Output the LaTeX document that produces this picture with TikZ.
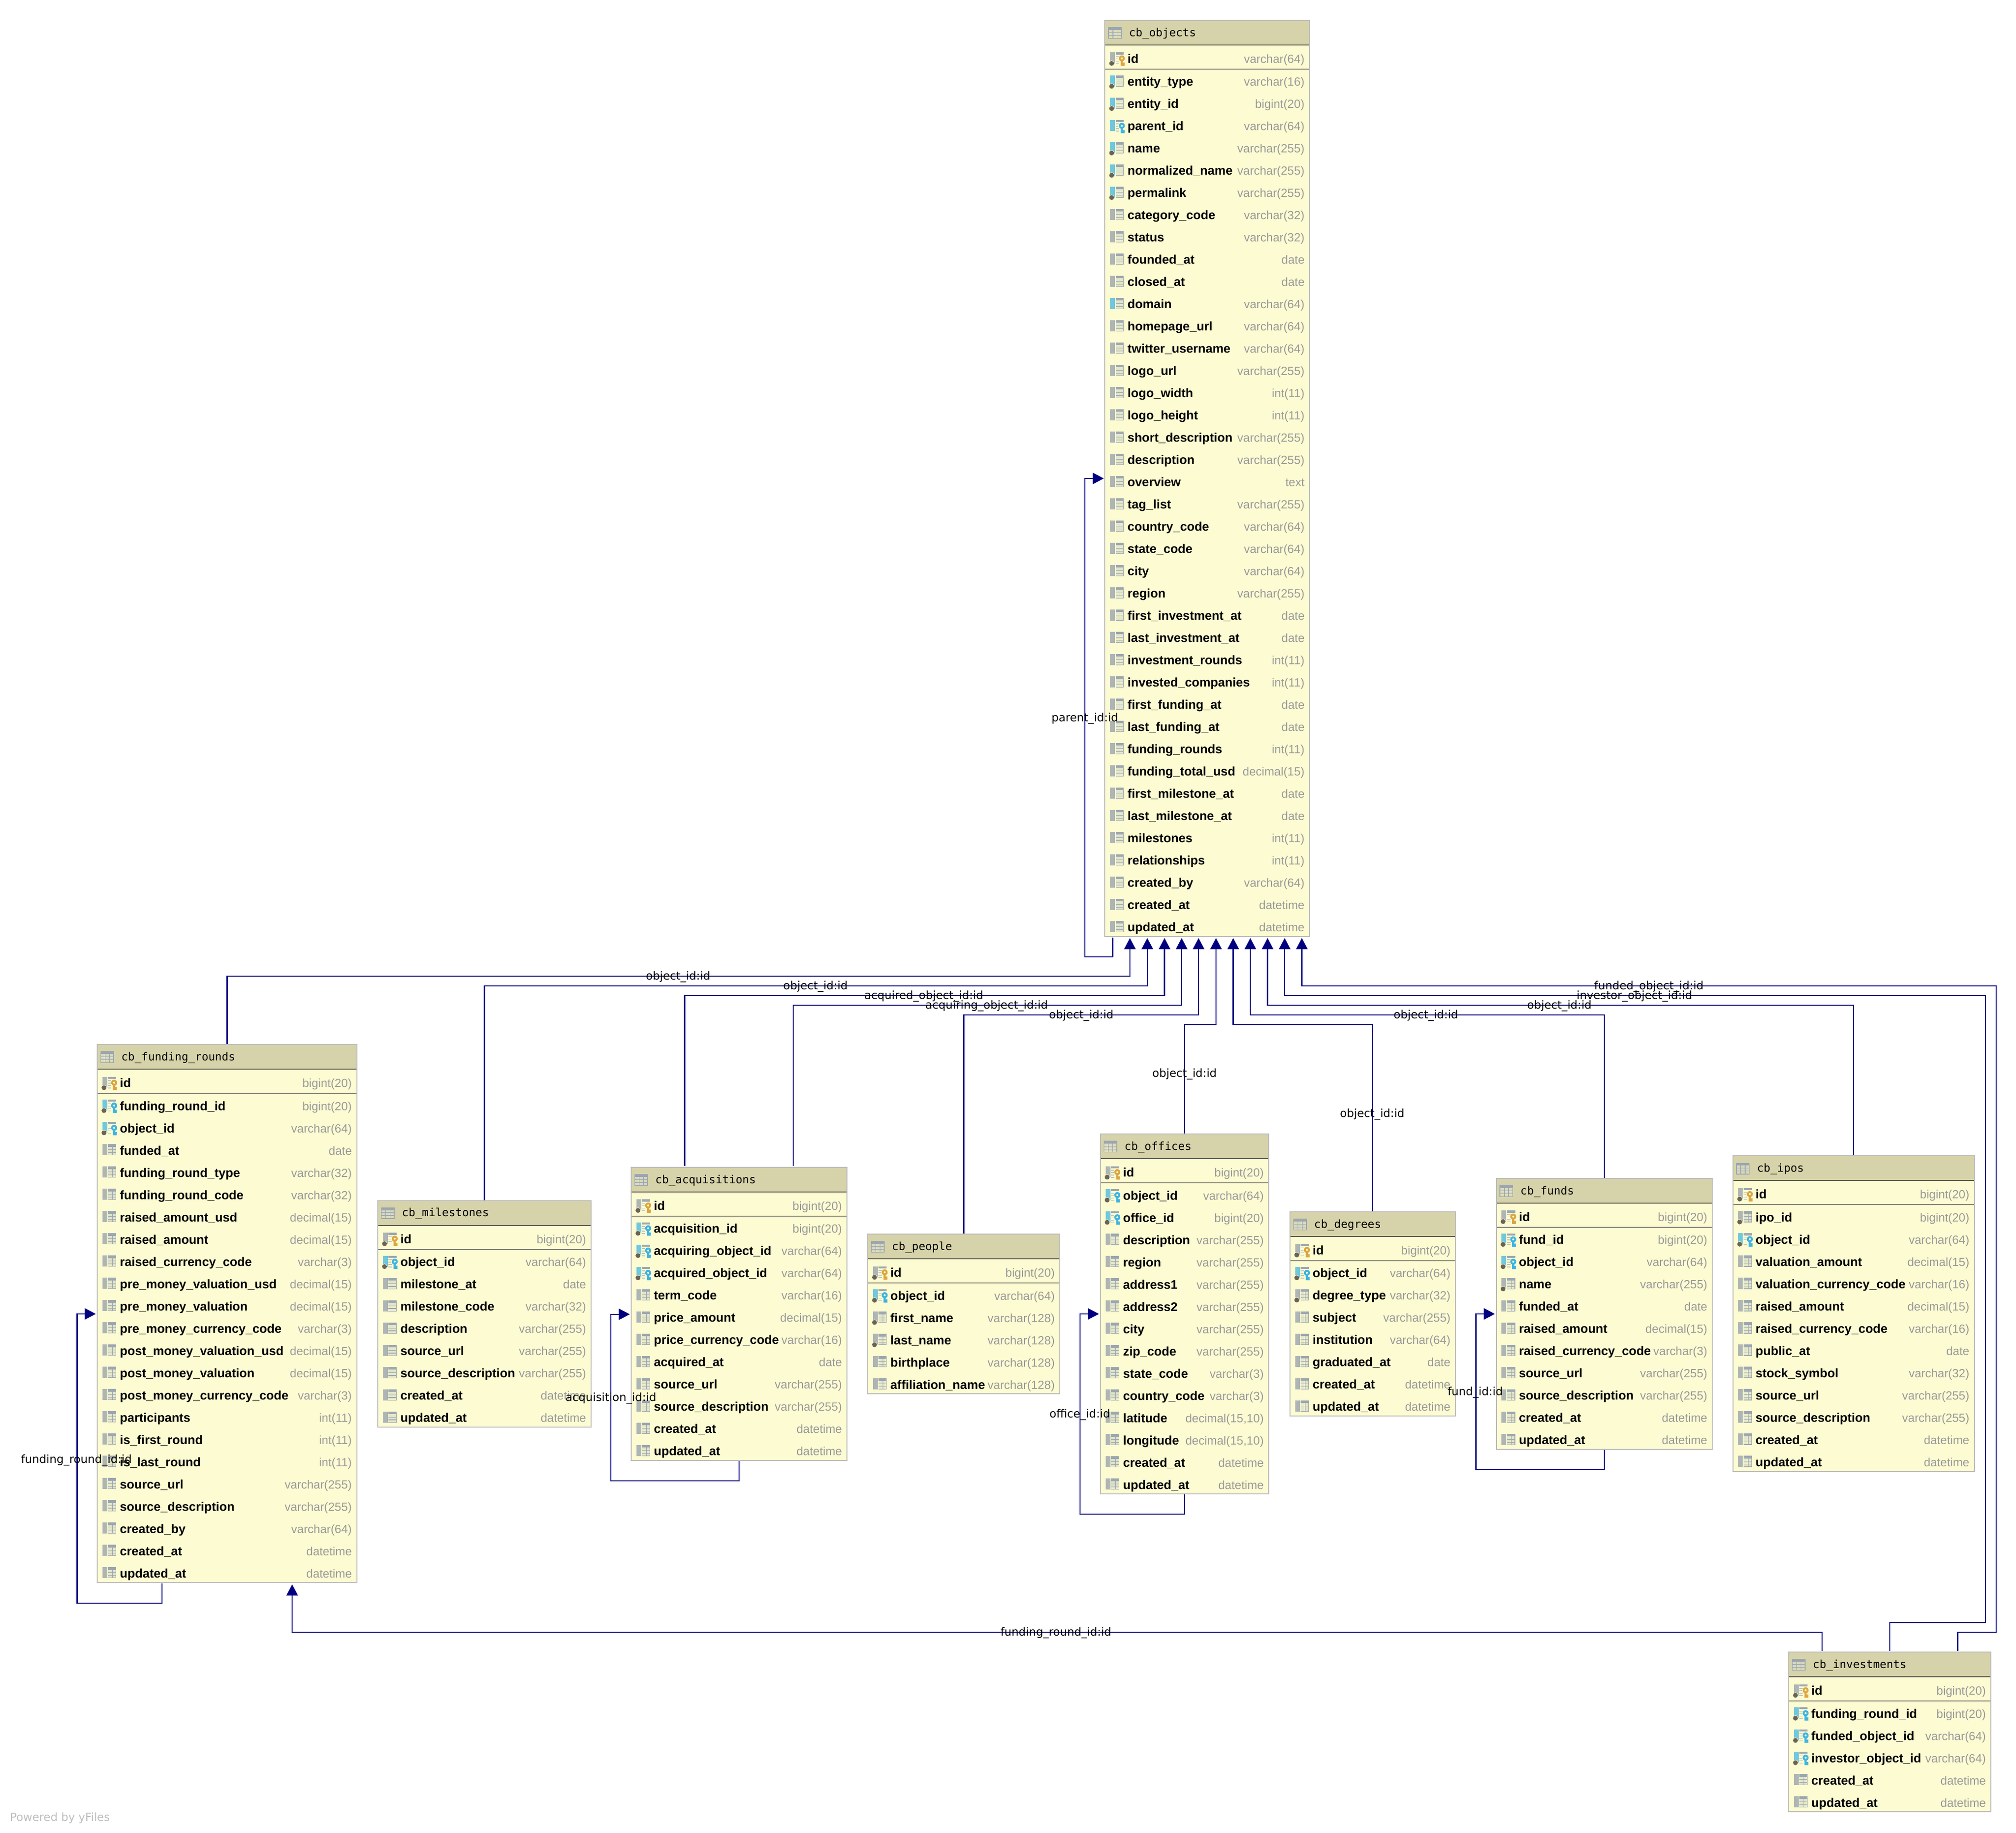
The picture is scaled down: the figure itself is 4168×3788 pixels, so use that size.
\documentclass[tikz,border=0pt]{standalone}
\usepackage{fontspec}
\usetikzlibrary{arrows.meta}
\newfontfamily\fRow{Liberation Sans}
\newfontfamily\fTitle{DejaVu Sans Mono}
\newfontfamily\fEdge{DejaVu Sans}
\definecolor{hdrfill}{RGB}{214,211,170}
\definecolor{bodyfill}{RGB}{252,251,210}
\definecolor{tblborder}{RGB}{188,188,188}
\definecolor{hdrline}{RGB}{90,90,80}
\definecolor{pkline}{RGB}{130,130,120}
\definecolor{typegrey}{RGB}{154,154,154}
\definecolor{edgeblue}{RGB}{0,0,128}
\definecolor{icongrey}{RGB}{174,181,181}
\definecolor{gridgrey}{RGB}{155,166,176}
\definecolor{iconblue}{RGB}{112,199,222}
\definecolor{dotbrown}{RGB}{107,100,85}
\definecolor{keyorange}{RGB}{221,165,63}
\definecolor{keyblue}{RGB}{61,180,227}
\definecolor{hdrcell}{RGB}{218,218,190}
\tikzset{
  tblbody/.style={draw=tblborder,fill=bodyfill,line width=2pt,inner sep=0pt},
  rowlbl/.style={anchor=base west,inner sep=0pt,font=\fRow\bfseries\fontsize{25.7}{30}\selectfont,text=black},
  rowtype/.style={anchor=base east,inner sep=0pt,font=\fRow\fontsize{24.5}{28}\selectfont,text=typegrey},
  tbltitle/.style={anchor=base west,inner sep=0pt,font=\fTitle\fontsize{23}{26}\selectfont,text=black},
  edgelbl/.style={anchor=base,inner sep=0pt,font=\fEdge\fontsize{23.2}{26}\selectfont,text=black},
  fk/.style={draw=edgeblue,line width=2.4pt,-{Triangle[length=23pt,width=23.5pt]}}
}
\newcount\rowno
% name, title, L, T, R, number of rows below the key row
\newcommand{\tablestart}[6]{%
  \def\tname{#1}\def\tL{#3}\def\tT{#4}\def\tR{#5}\global\rowno=0
  \pgfmathsetmacro\tw{#5-#3-2}\pgfmathsetmacro\th{148.3+46*(#6-1)-2}
  \node[tblbody,minimum width=\tw pt,minimum height=\th pt,anchor=north west] (#1) at (#3,#4) {};
  \fill[hdrfill] (#3+2,#4+2) rectangle (#5-2,#4+52);
  \draw[hdrline,line width=2pt] (#3+2,#4+52) -- (#5-2,#4+52);
  \draw[pkline,line width=2pt] (#3+2,#4+102) -- (#5-2,#4+102);
  \begin{scope}[shift={(#3,#4)}]
    \fill[gridgrey] (7.7,15.3) rectangle (35.7,39.3);
    \foreach \cx in {9.2,18.2,27}{\foreach \cy in {21,27,33}{\fill[hdrcell] (\cx,\cy) rectangle (\cx+7.4,\cy+4.8);}}
  \end{scope}
  \node[tbltitle] (#1-title) at (#3+50.7,#4+34.3) {#2};
}
\newcommand{\icbar}[1]{\fill[#1] (11.7,-13.3) rectangle (21.7,10);}
\newcommand{\icgrid}{%
  \fill[gridgrey] (23.4,-13.3) rectangle (40,-7.6);
  \fill[gridgrey!25!bodyfill] (23.4,-7.6) rectangle (40,10);
  \draw[gridgrey,line width=1.1pt] (23.4,-1.7) -- (40,-1.7) (23.4,4.2) -- (40,4.2) (23.4,9.5) -- (40,9.5) (32.4,-7.6) -- (32.4,10) (39.5,-7.6) -- (39.5,10);
}
\newcommand{\icdot}{\fill[dotbrown,draw=bodyfill,line width=0.8pt] (15,9.3) circle (5.6);}
\newcommand{\ickey}[1]{%
  \fill[gridgrey] (23.4,-13.3) rectangle (40,-9);
  \draw[gridgrey!70!bodyfill,line width=1.4pt] (23.4,-5) -- (30,-5) (23.4,0) -- (29,0) (23.4,5) -- (30,5) (23.4,10) -- (30,10);
  \fill[#1,even odd rule] (36,-1) circle (6.2) (36,-1) circle (2.2);
  \fill[#1] (33.6,4) rectangle (38,14.3) (38,7.6) rectangle (41.7,14.3);
}
% icon kinds: p key row, f blue+dot+key, k blue+key, i blue+dot+grid, b blue+grid, g grey+dot+grid, n plain
\newcommand{\drawicon}[1]{%
  \if#1p\icbar{icongrey}\ickey{keyorange}\icdot\fi
  \if#1f\icbar{iconblue}\ickey{keyblue}\icdot\fi
  \if#1k\icbar{iconblue}\ickey{keyblue}\fi
  \if#1i\icbar{iconblue}\icgrid\icdot\fi
  \if#1b\icbar{iconblue}\icgrid\fi
  \if#1g\icbar{icongrey}\icgrid\icdot\fi
  \if#1n\icbar{icongrey}\icgrid\fi
}
\newcommand{\crow}[3]{%
  \ifnum\rowno=0 \pgfmathsetmacro\yc{\tT+81}\else\pgfmathsetmacro\yc{\tT+128.3+46*(\the\rowno-1)}\fi
  \begin{scope}[shift={(\tL,\yc)}]\drawicon{#1}\end{scope}
  \node[rowlbl] (\tname-n\the\rowno) at (\tL+47.7,\yc+8.7) {#2};
  \node[rowtype] (\tname-t\the\rowno) at (\tR-11,\yc+8.7) {#3};
  \global\advance\rowno by 1
}
\begin{document}
\begin{tikzpicture}[x=1pt,y=-1pt]
\useasboundingbox (0,0) rectangle (4168,3788);
\fill[white] (0,0) rectangle (4168,3788);

% ---------------- cb_objects
\tablestart{objects}{cb\_objects}{2283.3}{40.7}{2708.3}{39}
\crow{p}{id}{varchar(64)}
\crow{i}{entity\_type}{varchar(16)}
\crow{i}{entity\_id}{bigint(20)}
\crow{k}{parent\_id}{varchar(64)}
\crow{i}{name}{varchar(255)}
\crow{i}{normalized\_name}{varchar(255)}
\crow{i}{permalink}{varchar(255)}
\crow{n}{category\_code}{varchar(32)}
\crow{n}{status}{varchar(32)}
\crow{n}{founded\_at}{date}
\crow{n}{closed\_at}{date}
\crow{b}{domain}{varchar(64)}
\crow{n}{homepage\_url}{varchar(64)}
\crow{n}{twitter\_username}{varchar(64)}
\crow{n}{logo\_url}{varchar(255)}
\crow{n}{logo\_width}{int(11)}
\crow{n}{logo\_height}{int(11)}
\crow{n}{short\_description}{varchar(255)}
\crow{n}{description}{varchar(255)}
\crow{n}{overview}{text}
\crow{n}{tag\_list}{varchar(255)}
\crow{n}{country\_code}{varchar(64)}
\crow{n}{state\_code}{varchar(64)}
\crow{n}{city}{varchar(64)}
\crow{n}{region}{varchar(255)}
\crow{n}{first\_investment\_at}{date}
\crow{n}{last\_investment\_at}{date}
\crow{n}{investment\_rounds}{int(11)}
\crow{n}{invested\_companies}{int(11)}
\crow{n}{first\_funding\_at}{date}
\crow{n}{last\_funding\_at}{date}
\crow{n}{funding\_rounds}{int(11)}
\crow{n}{funding\_total\_usd}{decimal(15)}
\crow{n}{first\_milestone\_at}{date}
\crow{n}{last\_milestone\_at}{date}
\crow{n}{milestones}{int(11)}
\crow{n}{relationships}{int(11)}
\crow{n}{created\_by}{varchar(64)}
\crow{n}{created\_at}{datetime}
\crow{n}{updated\_at}{datetime}

% ---------------- cb_funding_rounds
\tablestart{rounds}{cb\_funding\_rounds}{200}{2158}{738.6}{22}
\crow{p}{id}{bigint(20)}
\crow{f}{funding\_round\_id}{bigint(20)}
\crow{f}{object\_id}{varchar(64)}
\crow{n}{funded\_at}{date}
\crow{n}{funding\_round\_type}{varchar(32)}
\crow{n}{funding\_round\_code}{varchar(32)}
\crow{n}{raised\_amount\_usd}{decimal(15)}
\crow{n}{raised\_amount}{decimal(15)}
\crow{n}{raised\_currency\_code}{varchar(3)}
\crow{n}{pre\_money\_valuation\_usd}{decimal(15)}
\crow{n}{pre\_money\_valuation}{decimal(15)}
\crow{n}{pre\_money\_currency\_code}{varchar(3)}
\crow{n}{post\_money\_valuation\_usd}{decimal(15)}
\crow{n}{post\_money\_valuation}{decimal(15)}
\crow{n}{post\_money\_currency\_code}{varchar(3)}
\crow{n}{participants}{int(11)}
\crow{n}{is\_first\_round}{int(11)}
\crow{n}{is\_last\_round}{int(11)}
\crow{n}{source\_url}{varchar(255)}
\crow{n}{source\_description}{varchar(255)}
\crow{n}{created\_by}{varchar(64)}
\crow{n}{created\_at}{datetime}
\crow{n}{updated\_at}{datetime}

% ---------------- cb_milestones
\tablestart{miles}{cb\_milestones}{780}{2480.5}{1223}{8}
\crow{p}{id}{bigint(20)}
\crow{f}{object\_id}{varchar(64)}
\crow{n}{milestone\_at}{date}
\crow{n}{milestone\_code}{varchar(32)}
\crow{n}{description}{varchar(255)}
\crow{n}{source\_url}{varchar(255)}
\crow{n}{source\_description}{varchar(255)}
\crow{n}{created\_at}{datetime}
\crow{n}{updated\_at}{datetime}

% ---------------- cb_acquisitions
\tablestart{acq}{cb\_acquisitions}{1304}{2411.7}{1752}{11}
\crow{p}{id}{bigint(20)}
\crow{f}{acquisition\_id}{bigint(20)}
\crow{f}{acquiring\_object\_id}{varchar(64)}
\crow{f}{acquired\_object\_id}{varchar(64)}
\crow{n}{term\_code}{varchar(16)}
\crow{n}{price\_amount}{decimal(15)}
\crow{n}{price\_currency\_code}{varchar(16)}
\crow{n}{acquired\_at}{date}
\crow{n}{source\_url}{varchar(255)}
\crow{n}{source\_description}{varchar(255)}
\crow{n}{created\_at}{datetime}
\crow{n}{updated\_at}{datetime}

% ---------------- cb_people
\tablestart{people}{cb\_people}{1793}{2550}{2192}{5}
\crow{p}{id}{bigint(20)}
\crow{f}{object\_id}{varchar(64)}
\crow{g}{first\_name}{varchar(128)}
\crow{g}{last\_name}{varchar(128)}
\crow{n}{birthplace}{varchar(128)}
\crow{n}{affiliation\_name}{varchar(128)}

% ---------------- cb_offices
\tablestart{offices}{cb\_offices}{2274}{2343}{2624}{14}
\crow{p}{id}{bigint(20)}
\crow{f}{object\_id}{varchar(64)}
\crow{f}{office\_id}{bigint(20)}
\crow{n}{description}{varchar(255)}
\crow{n}{region}{varchar(255)}
\crow{n}{address1}{varchar(255)}
\crow{n}{address2}{varchar(255)}
\crow{n}{city}{varchar(255)}
\crow{n}{zip\_code}{varchar(255)}
\crow{n}{state\_code}{varchar(3)}
\crow{n}{country\_code}{varchar(3)}
\crow{n}{latitude}{decimal(15,10)}
\crow{n}{longitude}{decimal(15,10)}
\crow{n}{created\_at}{datetime}
\crow{n}{updated\_at}{datetime}

% ---------------- cb_degrees
\tablestart{degrees}{cb\_degrees}{2666}{2503.7}{3010}{7}
\crow{p}{id}{bigint(20)}
\crow{f}{object\_id}{varchar(64)}
\crow{g}{degree\_type}{varchar(32)}
\crow{n}{subject}{varchar(255)}
\crow{n}{institution}{varchar(64)}
\crow{n}{graduated\_at}{date}
\crow{n}{created\_at}{datetime}
\crow{n}{updated\_at}{datetime}

% ---------------- cb_funds
\tablestart{funds}{cb\_funds}{3092.5}{2434.7}{3541}{10}
\crow{p}{id}{bigint(20)}
\crow{f}{fund\_id}{bigint(20)}
\crow{f}{object\_id}{varchar(64)}
\crow{g}{name}{varchar(255)}
\crow{n}{funded\_at}{date}
\crow{n}{raised\_amount}{decimal(15)}
\crow{n}{raised\_currency\_code}{varchar(3)}
\crow{n}{source\_url}{varchar(255)}
\crow{n}{source\_description}{varchar(255)}
\crow{n}{created\_at}{datetime}
\crow{n}{updated\_at}{datetime}

% ---------------- cb_ipos
\tablestart{ipos}{cb\_ipos}{3581.7}{2388.2}{4082.7}{12}
\crow{p}{id}{bigint(20)}
\crow{g}{ipo\_id}{bigint(20)}
\crow{f}{object\_id}{varchar(64)}
\crow{n}{valuation\_amount}{decimal(15)}
\crow{n}{valuation\_currency\_code}{varchar(16)}
\crow{n}{raised\_amount}{decimal(15)}
\crow{n}{raised\_currency\_code}{varchar(16)}
\crow{n}{public\_at}{date}
\crow{n}{stock\_symbol}{varchar(32)}
\crow{n}{source\_url}{varchar(255)}
\crow{n}{source\_description}{varchar(255)}
\crow{n}{created\_at}{datetime}
\crow{n}{updated\_at}{datetime}

% ---------------- cb_investments
\tablestart{invest}{cb\_investments}{3697}{3414}{4117}{5}
\crow{p}{id}{bigint(20)}
\crow{f}{funding\_round\_id}{bigint(20)}
\crow{f}{funded\_object\_id}{varchar(64)}
\crow{f}{investor\_object\_id}{varchar(64)}
\crow{n}{created\_at}{datetime}
\crow{n}{updated\_at}{datetime}

% ---------------- ports and elbows
\coordinate (inA) at (2336,1939);   \coordinate (elA) at (2336,2018);
\coordinate (inB) at (2372,1939);   \coordinate (elB) at (2372,2038);
\coordinate (inC) at (2407.6,1939); \coordinate (elC) at (2407.6,2058);
\coordinate (inD) at (2443,1939);   \coordinate (elD) at (2443,2078);
\coordinate (inE) at (2478,1939);   \coordinate (elE) at (2478,2098);
\coordinate (inF) at (2514,1939);   \coordinate (elF) at (2514,2118);
\coordinate (inG) at (2549.6,1939); \coordinate (elG) at (2549.6,2118);
\coordinate (inH) at (2585,1939);   \coordinate (elH) at (2585,2098);
\coordinate (inI) at (2620.6,1939); \coordinate (elI) at (2620.6,2078);
\coordinate (inJ) at (2656,1939);   \coordinate (elJ) at (2656,2058);
\coordinate (inK) at (2691.5,1939); \coordinate (elK) at (2691.5,2038);
\coordinate (acqOutA) at (1415.5,2410);
\coordinate (acqOutB) at (1640,2410);
\coordinate (invOutA) at (3766.7,3413);
\coordinate (invOutB) at (3907,3413);
\coordinate (invOutC) at (4047.5,3413);
\coordinate (invBendB) at (4104.7,3354);
\coordinate (invBendC) at (4127,3374);
\coordinate (roundsIn) at (604,3275);
\coordinate (roundsEl) at (604,3374);
\coordinate (objLoopOut) at (2300.4,1938);
\coordinate (objLoopEl) at (2243,1978);
\coordinate (objLoopIn) at (2282,989);
\coordinate (roundsLoopOut) at (334.7,3273);
\coordinate (roundsLoopEl) at (159.5,3314);
\coordinate (roundsLoopIn) at (198,2716);
\coordinate (acqLoopEl) at (1263,3061);
\coordinate (acqLoopIn) at (1302,2716.7);
\coordinate (offLoopEl) at (2233,3130);
\coordinate (offLoopIn) at (2272,2716);
\coordinate (fundLoopEl) at (3051.4,3038);
\coordinate (fundLoopIn) at (3090.5,2716);

% ---------------- connectors
\draw[fk] (rounds.north) |- (elA) -- (inA);
\draw[fk] (miles.north) |- (elB) -- (inB);
\draw[fk] (acqOutA) |- (elC) -- (inC);
\draw[fk] (acqOutB) |- (elD) -- (inD);
\draw[fk] (people.north) |- (elE) -- (inE);
\draw[fk] (offices.north) |- (elF) -- (inF);
\draw[fk] (degrees.north) |- (elG) -- (inG);
\draw[fk] (funds.north) |- (elH) -- (inH);
\draw[fk] (ipos.north) |- (elI) -- (inI);
\draw[fk] (invOutB) |- (invBendB) |- (elJ) -- (inJ);
\draw[fk] (invOutC) |- (invBendC) |- (elK) -- (inK);
\draw[fk] (invOutA) |- (roundsEl) -- (roundsIn);
\draw[fk] (objLoopOut) |- (objLoopEl) |- (objLoopIn);
\draw[fk] (roundsLoopOut) |- (roundsLoopEl) |- (roundsLoopIn);
\draw[fk] (acq.south) |- (acqLoopEl) |- (acqLoopIn);
\draw[fk] (offices.south) |- (offLoopEl) |- (offLoopIn);
\draw[fk] (funds.south) |- (fundLoopEl) |- (fundLoopIn);

% ---------------- connector labels
\node[edgelbl] (lbA) at (1402,2025.7) {object\_id:id};
\node[edgelbl] (lbB) at (1686,2045.7) {object\_id:id};
\node[edgelbl] (lbC) at (1910,2065.7) {acquired\_object\_id:id};
\node[edgelbl] (lbD) at (2040,2085.7) {acquiring\_object\_id:id};
\node[edgelbl] (lbE) at (2235.5,2105.7) {object\_id:id};
\node[edgelbl] (lbF) at (2449,2226.7) {object\_id:id};
\node[edgelbl] (lbG) at (2837,2309.7) {object\_id:id};
\node[edgelbl] (lbH) at (2948,2105.7) {object\_id:id};
\node[edgelbl] (lbI) at (3224,2085.7) {object\_id:id};
\node[edgelbl] (lbJ) at (3379,2065.7) {investor\_object\_id:id};
\node[edgelbl] (lbK) at (3409,2045.7) {funded\_object\_id:id};
\node[edgelbl] (lbL) at (2183,3381.7) {funding\_round\_id:id};
\node[edgelbl] (lbM) at (2243,1491.7) {parent\_id:id};
\node[edgelbl] (lbN) at (158,3024.7) {funding\_round\_id:id};
\node[edgelbl] (lbO) at (1263,2896.7) {acquisition\_id:id};
\node[edgelbl] (lbP) at (2232.5,2930.7) {office\_id:id};
\node[edgelbl] (lbQ) at (3050,2884.7) {fund\_id:id};

\node[anchor=base west,inner sep=0pt,font=\fEdge\fontsize{23.2}{26}\selectfont,text=black!25] (yfiles) at (20.4,3764) {Powered by yFiles};
\end{tikzpicture}
\end{document}
